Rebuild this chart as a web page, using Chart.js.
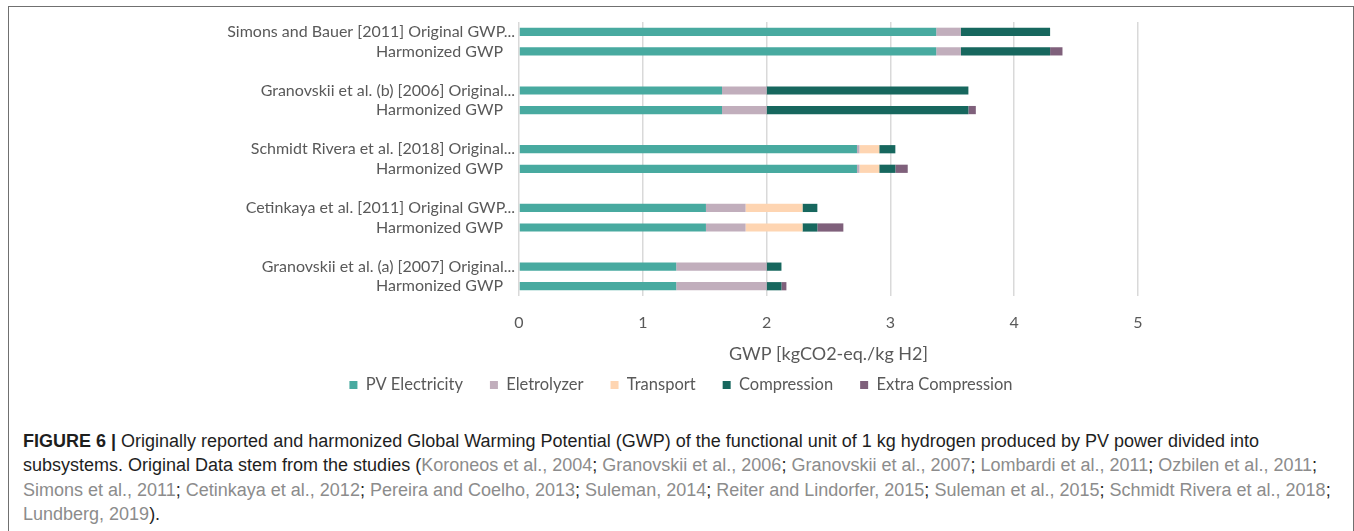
<!DOCTYPE html>
<html>
<head>
<meta charset="utf-8">
<script src="https://cdn.jsdelivr.net/npm/chart.js@4.4.1/dist/chart.umd.min.js"></script>
<style>
    body { margin: 0; background: #fff; width: 1354px; height: 531px; overflow: hidden; position: relative; }
    #marco { position: absolute; left: 8px; top: 6px; width: 1344px; height: 600px; border: 1px solid #707070; border-bottom: none; }
    #grafico { position: absolute; left: 0; top: 0; }
    #pie { position: absolute; left: 23px; top: 429px; font-family: "Liberation Sans", Arial, sans-serif; font-size: 18px; line-height: 24.4px; color: #1e1e1e; white-space: nowrap; }
    #pie .ref { color: #8c8c8c; }
    #pie b { font-weight: 700; }
</style>
</head>
<body>
<div id="marco"></div>
<canvas id="grafico" width="1354" height="410"></canvas>
<div id="pie">
    <div><b>FIGURE 6 |</b> Originally reported and harmonized Global Warming Potential (GWP) of the functional unit of 1 kg hydrogen produced by PV power divided into</div>
    <div>subsystems. Original Data stem from the studies (<span class="ref">Koroneos et al., 2004</span>; <span class="ref">Granovskii et al., 2006</span>; <span class="ref">Granovskii et al., 2007</span>; <span class="ref">Lombardi et al., 2011</span>; <span class="ref">Ozbilen et al., 2011</span>;</div>
    <div><span class="ref">Simons et al., 2011</span>; <span class="ref">Cetinkaya et al., 2012</span>; <span class="ref">Pereira and Coelho, 2013</span>; <span class="ref">Suleman, 2014</span>; <span class="ref">Reiter and Lindorfer, 2015</span>; <span class="ref">Suleman et al., 2015</span>; <span class="ref">Schmidt Rivera et al., 2018</span>;</div>
    <div><span class="ref">Lundberg, 2019</span>).</div>
</div>
<script>
// Datos del grafico (de arriba hacia abajo, con filas vacias entre estudios)
const categorias = [
    'Simons and Bauer [2011] Original GWP...', 'Harmonized GWP\u00a0\u00a0\u00a0', '',
    'Granovskii et al. (b) [2006] Original...', 'Harmonized GWP\u00a0\u00a0\u00a0', '',
    'Schmidt Rivera et al. [2018] Original...', 'Harmonized GWP\u00a0\u00a0\u00a0', '',
    'Cetinkaya et al. [2011] Original GWP...', 'Harmonized GWP\u00a0\u00a0\u00a0', '',
    'Granovskii et al. (a) [2007] Original...', 'Harmonized GWP\u00a0\u00a0\u00a0'
];
const pvElectricity    = [3.37, 3.37, null, 1.64, 1.64, null, 2.73, 2.73, null, 1.51, 1.51, null, 1.27, 1.27];
const eletrolyzer      = [0.20, 0.20, null, 0.36, 0.36, null, 0.02, 0.02, null, 0.32, 0.32, null, 0.73, 0.73];
const transport        = [0, 0, null, 0, 0, null, 0.16, 0.16, null, 0.46, 0.46, null, 0, 0];
const compression      = [0.72, 0.72, null, 1.63, 1.63, null, 0.13, 0.13, null, 0.12, 0.12, null, 0.12, 0.12];
const extraCompression = [0, 0.10, null, 0, 0.06, null, 0, 0.10, null, 0, 0.21, null, 0, 0.04];

const nombresSeries = ['PV Electricity', 'Eletrolyzer', 'Transport', 'Compression', 'Extra Compression'];
const valoresSeries = [pvElectricity, eletrolyzer, transport, compression, extraCompression];
const coloresSeries = ['#48aaa0', '#c1aebc', '#fed5b2', '#17675e', '#7f607b'];
const ticksX = [0, 1, 2, 3, 4, 5];

const grisTexto = '#595959';

Chart.defaults.font.family = 'Lato, sans-serif';
Chart.defaults.color = grisTexto;

const datasets = nombresSeries.map(function (nombre, i) {
    return {
        label: nombre,
        data: valoresSeries[i],
        backgroundColor: coloresSeries[i],
        borderWidth: 0,
        barPercentage: 0.42,
        categoryPercentage: 1
    };
});

new Chart(document.getElementById('grafico'), {
    type: 'bar',
    data: { labels: categorias, datasets: datasets },
    options: {
        indexAxis: 'y',
        responsive: false,
        animation: false,
        layout: { padding: { left: 224, right: 216, top: 22, bottom: 6.75 } },
        scales: {
            x: {
                stacked: true,
                min: ticksX[0],
                max: ticksX[ticksX.length - 1],
                afterBuildTicks: function (scale) {
                    scale.ticks = ticksX.map(function (v) { return { value: v }; });
                },
                grid: { color: '#d9d9d9', lineWidth: 1.5, drawTicks: false },
                border: { display: false },
                ticks: { padding: 17, font: { size: 16 }, color: grisTexto },
                title: {
                    display: true,
                    text: 'GWP [kgCO2-eq./kg H2]',
                    font: { size: 18 },
                    color: grisTexto,
                    padding: { top: 0, bottom: -15 }
                },
                afterFit: function (scale) { scale.height = 53.75; }
            },
            y: {
                stacked: true,
                grid: { display: false, drawTicks: false },
                border: { display: false },
                ticks: { padding: 4, font: { size: 16 }, color: grisTexto, autoSkip: false },
                afterFit: function (scale) { scale.width = 295; }
            }
        },
        plugins: {
            legend: {
                position: 'bottom',
                labels: {
                    boxWidth: 8,
                    boxHeight: 8,
                    padding: 27,
                    color: grisTexto,
                    font: { size: 16.5 }
                }
            },
            tooltip: { enabled: false }
        }
    }
});
</script>
</body>
</html>
